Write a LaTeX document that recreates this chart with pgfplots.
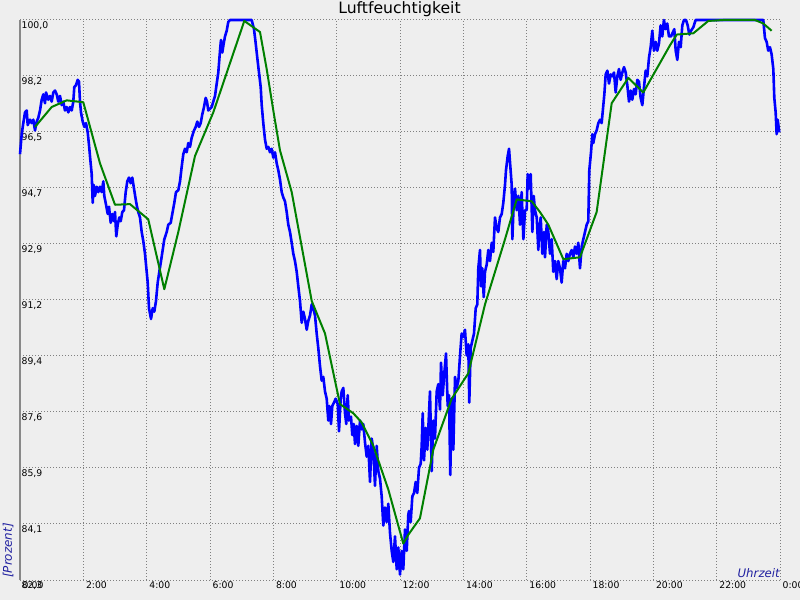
\documentclass[border=0pt]{standalone}
\usepackage{fontspec}
\setmainfont{DejaVu Sans}
\usepackage{pgfplots}
\pgfplotsset{compat=1.18}
\definecolor{bg}{RGB}{238,238,238}
\definecolor{lbl}{RGB}{32,32,160}
\definecolor{gridc}{RGB}{128,128,128}
\definecolor{axc}{RGB}{136,136,136}
\definecolor{grn}{RGB}{0,128,0}
\definecolor{blu}{RGB}{0,0,255}
\begin{document}
\begin{tikzpicture}
\fill[bg] (0,0) rectangle (800bp,600bp);
\path[use as bounding box] (0,0) rectangle (800bp,600bp);
\begin{axis}[
  at={(20bp,20bp)}, anchor=south west,
  scale only axis, width=760bp, height=560bp,
  xmin=0, xmax=24, ymin=82.3, ymax=100,
  clip=false,
  axis line style={draw=none},
  major tick length=0pt,
  xtick={0,2,4,6,8,10,12,14,16,18,20,22,24},
  xticklabels={0:00,2:00,4:00,6:00,8:00,10:00,12:00,14:00,16:00,18:00,20:00,22:00,0:00},
  ytick={82.3,84.07,85.84,87.61,89.38,91.15,92.92,94.69,96.46,98.23,100},
  yticklabels={{82,3},{84,1},{85,9},{87,6},{89,4},{91,2},{92,9},{94,7},{96,5},{98,2},{100,0}},
  grid=major,
  grid style={gridc, line width=1bp, dash pattern=on 1bp off 2bp},
  ticklabel style={font=\fontsize{9.3}{11}\selectfont, text=black},
  xticklabel style={anchor=north west, inner sep=1bp, xshift=1.5bp},
  yticklabel style={anchor=north west, inner sep=1bp, xshift=0.5bp},
  /pgf/number format/assume math mode=true,
]
\draw[axc, line width=2.5bp] (rel axis cs:0,0) -- (rel axis cs:0,1);
\addplot[blu, line width=2.6bp, line join=round] table {
0 95.76
0.054 96.39
0.104 96.74
0.158 97.08
0.212 97.14
0.243 96.68
0.316 96.85
0.369 96.74
0.42 96.85
0.474 96.51
0.527 96.79
0.578 96.91
0.632 97.14
0.685 97.48
0.736 97.65
0.789 97.37
0.821 97.71
0.894 97.48
0.947 97.60
1.001 97.42
1.052 97.71
1.105 97.77
1.159 97.65
1.209 97.42
1.263 97.60
1.317 97.31
1.367 97.42
1.421 97.14
1.475 97.25
1.525 97.08
1.579 97.25
1.633 97.14
1.683 97.42
1.715 97.88
1.768 97.94
1.822 98.11
1.863 98.05
1.895 97.42
1.926 97.08
1.98 96.79
2.031 96.62
2.084 96.74
2.138 96.45
2.179 96.05
2.22 95.59
2.264 95.13
2.296 94.22
2.327 94.79
2.368 94.44
2.422 94.73
2.473 94.56
2.526 94.73
2.58 94.56
2.631 94.90
2.662 94.44
2.706 94.22
2.77 93.87
2.811 94.10
2.864 93.59
2.915 93.87
2.968 93.64
3.0 93.93
3.041 93.16
3.085 93.53
3.136 93.76
3.18 93.64
3.231 93.93
3.284 93.99
3.338 94.56
3.388 94.90
3.442 95.02
3.496 94.84
3.546 95.02
3.6 94.67
3.654 94.33
3.695 94.10
3.736 93.93
3.789 93.76
3.843 93.30
3.894 93.01
3.947 92.61
4.001 92.04
4.033 91.70
4.074 90.89
4.137 90.55
4.191 90.89
4.241 90.78
4.295 91.12
4.348 91.70
4.399 92.04
4.453 92.38
4.506 92.73
4.557 93.07
4.633 93.30
4.683 93.53
4.759 93.59
4.809 93.87
4.873 94.22
4.926 94.56
4.999 94.62
5.053 94.90
5.106 95.36
5.157 95.76
5.211 95.93
5.264 95.82
5.315 96.11
5.368 95.99
5.422 96.28
5.495 96.51
5.549 96.62
5.599 96.79
5.653 96.62
5.706 96.74
5.757 97.02
5.811 97.25
5.864 97.54
5.905 97.42
5.946 97.14
6.0 97.19
6.054 97.25
6.104 97.42
6.158 97.60
6.212 97.99
6.262 98.34
6.316 99.03
6.347 99.37
6.388 98.97
6.433 99.26
6.474 99.48
6.527 99.66
6.578 99.94
6.632 100
7.317 100
7.39 99.71
7.443 99.26
7.494 98.80
7.547 98.34
7.601 97.88
7.633 97.31
7.683 96.74
7.737 96.22
7.791 95.93
7.841 95.99
7.895 95.82
7.948 95.93
7.999 95.65
8.053 95.82
8.106 95.47
8.157 95.25
8.21 94.96
8.264 94.56
8.315 94.39
8.368 94.27
8.422 93.93
8.473 93.53
8.526 93.30
8.58 92.96
8.631 92.61
8.684 92.38
8.738 92.04
8.789 91.58
8.842 91.12
8.896 90.43
8.946 90.78
9.0 90.55
9.054 90.21
9.104 90.49
9.158 90.66
9.212 91.01
9.262 90.89
9.316 90.66
9.369 90.09
9.42 89.63
9.474 89.06
9.527 88.60
9.578 88.72
9.632 88.26
9.685 88.03
9.736 87.34
9.767 87.80
9.821 87.23
9.862 87.80
9.916 87.91
9.969 88.03
10.033 87.86
10.074 87.00
10.127 88.03
10.159 88.26
10.21 88.37
10.263 87.57
10.304 87.23
10.348 88.14
10.389 87.34
10.453 87.46
10.494 86.88
10.538 87.23
10.579 86.60
10.633 87.17
10.683 86.54
10.737 87.34
10.791 87.06
10.841 87.23
10.895 86.65
10.948 86.20
10.999 86.54
11.053 85.40
11.106 86.77
11.157 86.42
11.21 85.28
11.264 86.54
11.315 85.74
11.368 85.51
11.422 84.94
11.473 84.02
11.526 84.59
11.58 84.13
11.631 84.71
11.684 83.79
11.738 83.22
11.789 82.87
11.842 83.68
11.896 82.64
11.946 83.33
12.0 82.47
12.054 83.22
12.104 82.64
12.158 83.90
12.212 83.22
12.262 84.36
12.284 84.48
12.337 84.13
12.389 84.94
12.442 85.05
12.496 85.40
12.546 85.05
12.6 85.85
12.653 85.97
12.685 86.54
12.717 87.57
12.758 86.08
12.812 87.11
12.862 86.42
12.916 87.57
12.947 88.26
13.001 85.74
13.052 87.34
13.105 86.77
13.159 88.26
13.21 88.49
13.263 87.69
13.295 89.17
13.349 88.14
13.399 88.83
13.453 89.46
13.506 87.80
13.547 88.14
13.588 85.62
13.632 88.03
13.684 86.42
13.738 88.72
13.789 88.37
13.843 88.60
13.896 89.40
13.947 90.09
13.998 89.98
14.052 90.21
14.105 89.40
14.156 89.75
14.188 87.91
14.232 89.63
14.283 89.86
14.337 90.09
14.391 90.89
14.441 91.01
14.473 92.15
14.526 92.73
14.558 91.58
14.6 92.15
14.644 91.24
14.684 92.04
14.738 92.27
14.789 92.73
14.842 92.38
14.896 92.96
14.946 92.67
15.0 93.76
15.054 93.41
15.104 93.30
15.158 93.76
15.212 93.87
15.262 94.22
15.316 94.79
15.347 95.25
15.401 95.70
15.443 95.93
15.485 95.36
15.527 94.79
15.548 93.07
15.591 94.22
15.632 94.67
15.685 93.99
15.738 94.44
15.79 93.53
15.842 94.56
15.896 93.07
15.948 93.99
16.0 93.99
16.032 95.13
16.074 94.67
16.127 95.13
16.18 93.30
16.222 94.44
16.263 93.99
16.317 93.76
16.369 92.73
16.39 93.30
16.443 93.76
16.495 92.61
16.549 93.30
16.58 92.50
16.633 93.53
16.684 93.30
16.737 92.61
16.79 93.07
16.841 92.04
16.894 92.38
16.948 91.81
16.999 92.38
17.052 92.15
17.105 91.70
17.157 92.38
17.21 92.15
17.264 92.61
17.315 92.38
17.368 92.61
17.422 92.73
17.473 92.50
17.526 92.84
17.58 92.61
17.631 92.96
17.684 92.15
17.738 92.84
17.789 93.07
17.842 93.30
17.896 93.53
17.946 93.64
17.978 95.25
18.032 95.82
18.074 96.39
18.105 96.11
18.158 96.39
18.21 96.51
18.263 96.74
18.316 96.85
18.368 96.74
18.421 97.31
18.453 97.65
18.495 98.28
18.549 98.40
18.6 97.99
18.653 98.28
18.706 98.22
18.758 98.34
18.811 97.71
18.863 98.22
18.915 98.45
18.968 98.11
19.02 98.34
19.074 98.51
19.127 98.34
19.178 97.94
19.232 97.42
19.284 97.77
19.336 97.48
19.39 97.82
19.441 97.65
19.494 98.11
19.547 98.05
19.599 97.54
19.652 97.31
19.706 97.88
19.757 98.40
19.81 98.22
19.862 98.80
19.915 99.14
19.967 99.66
20.02 99.03
20.073 99.31
20.124 99.03
20.178 99.26
20.23 99.83
20.283 99.48
20.334 100
20.387 99.71
20.44 99.89
20.493 99.48
20.558 99.48
20.611 99.60
20.662 99.71
20.706 99.03
20.757 98.74
20.81 99.31
20.864 99.14
20.915 99.83
20.968 100
21.031 100
21.085 99.83
21.136 99.54
21.19 99.66
21.263 99.77
21.336 100
23.472 100
23.525 99.43
23.578 99.31
23.629 99.03
23.683 99.14
23.736 98.91
23.789 98.45
23.82 97.54
23.863 97.08
23.894 96.39
23.926 96.85
23.978 96.45
};
\addplot[grn, line width=2bp, line join=round] table {
0.474 96.62
1.001 97.25
1.475 97.46
1.999 97.40
2.526 95.47
3.0 94.16
3.474 94.18
4.05 93.70
4.557 91.49
4.999 93.30
5.526 95.70
6.104 97.08
7.083 99.97
7.579 99.62
7.79 98.45
7.999 97.14
8.21 95.88
8.58 94.56
8.896 92.84
9.212 91.12
9.632 90.09
9.947 88.60
10.105 87.86
10.525 87.57
10.79 87.28
11.157 86.54
11.631 85.16
12.104 83.45
12.262 83.73
12.63 84.25
13.052 86.42
13.632 88.03
14.156 88.83
14.684 91.01
15.316 93.07
15.685 94.33
16.159 94.27
16.42 93.93
16.684 93.53
17.157 92.44
17.684 92.50
18.21 93.93
18.685 97.37
19.21 98.17
19.683 97.71
20.526 99.20
20.74 99.54
21.263 99.58
21.736 99.97
22.21 100
23.21 100
23.472 99.89
23.736 99.66
};
\end{axis}
\node[anchor=base, inner sep=0pt, font=\fontsize{15.7}{18}\selectfont] at (399.5bp,586.7bp) {Luftfeuchtigkeit};
\node[anchor=base east, inner sep=0pt, text=lbl, font=\fontsize{11.8}{14}\itshape] at (780bp,22.5bp) {Uhrzeit};
\node[anchor=base west, rotate=90, inner sep=0pt, text=lbl, font=\fontsize{12}{14}\itshape] at (11.8bp,22bp) {[Prozent]};
\end{tikzpicture}
\end{document}
